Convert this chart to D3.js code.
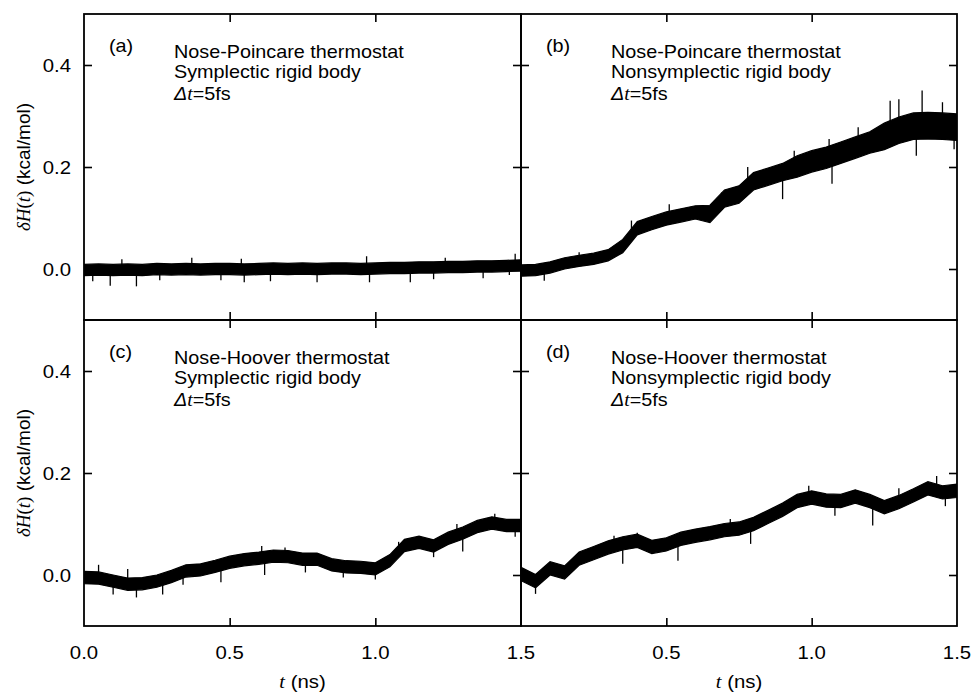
<!DOCTYPE html>
<html><head><meta charset="utf-8">
<script src="https://cdn.jsdelivr.net/npm/d3@7"></script>
<style>body{margin:0;background:#fff} svg{display:block}</style>
</head><body><svg id="c" width="974" height="694"></svg>
<script>
// ---------- data ----------
const times = [0,0.05,0.1,0.15,0.2,0.25,0.3,0.35,0.4,0.45,0.5,0.55,0.6,0.65,0.7,0.75,0.8,0.85,0.9,0.95,1.0,1.05,1.1,1.15,1.2,1.25,1.3,1.35,1.4,1.45,1.5];
const panelLetters = ["(a)","(b)","(c)","(d)"];
const thermostatNames = ["Nose-Poincare thermostat","Nose-Poincare thermostat","Nose-Hoover thermostat","Nose-Hoover thermostat"];
const bodyNames = ["Symplectic rigid body","Nonsymplectic rigid body","Symplectic rigid body","Nonsymplectic rigid body"];
const stepLabel = "=5fs";
const xTicks = [0,0.5,1.0,1.5];
const yTicks = [0,0.2,0.4];
const xDomain = [0,1.5];
const yDomain = [-0.1,0.5];

const centerA = [-0.002,-0.001,-0.002,-0.001,-0.002,0.000,-0.001,0.000,-0.001,0.000,0.000,-0.001,0.000,0.001,0.000,0.001,0.000,0.001,0.001,0.000,0.001,0.002,0.002,0.003,0.003,0.004,0.004,0.005,0.005,0.006,0.007];
const halfA   = [0.011,0.011,0.011,0.011,0.011,0.011,0.011,0.011,0.011,0.011,0.011,0.011,0.011,0.011,0.011,0.011,0.011,0.011,0.011,0.011,0.011,0.011,0.011,0.011,0.011,0.011,0.011,0.011,0.011,0.011,0.011];
const centerB = [-0.003,-0.002,0.003,0.011,0.016,0.020,0.027,0.045,0.080,0.090,0.099,0.105,0.111,0.108,0.138,0.146,0.172,0.181,0.190,0.201,0.211,0.218,0.228,0.238,0.248,0.260,0.272,0.280,0.281,0.280,0.278];
const halfB   = [0.011,0.011,0.011,0.011,0.011,0.011,0.011,0.013,0.013,0.013,0.013,0.013,0.013,0.017,0.017,0.017,0.017,0.017,0.017,0.021,0.021,0.021,0.021,0.021,0.021,0.026,0.026,0.026,0.026,0.026,0.026];
const centerC = [-0.005,-0.006,-0.012,-0.018,-0.017,-0.012,-0.003,0.008,0.010,0.017,0.025,0.030,0.033,0.037,0.036,0.031,0.031,0.020,0.016,0.015,0.012,0.028,0.058,0.064,0.057,0.072,0.082,0.095,0.102,0.097,0.097];
const halfC   = [0.012,0.012,0.012,0.012,0.012,0.012,0.012,0.012,0.012,0.012,0.012,0.012,0.012,0.012,0.012,0.012,0.012,0.012,0.012,0.012,0.012,0.012,0.012,0.012,0.012,0.012,0.012,0.012,0.012,0.012,0.012];
const centerD = [0.002,-0.012,0.013,0.005,0.032,0.043,0.054,0.062,0.067,0.055,0.060,0.071,0.077,0.082,0.088,0.091,0.100,0.114,0.128,0.145,0.152,0.146,0.145,0.154,0.145,0.133,0.143,0.156,0.170,0.162,0.165];
const halfD   = [0.013,0.013,0.013,0.013,0.013,0.013,0.013,0.013,0.013,0.013,0.013,0.013,0.013,0.013,0.013,0.013,0.013,0.013,0.013,0.013,0.013,0.013,0.013,0.013,0.013,0.013,0.013,0.013,0.013,0.013,0.013];

// spikes: [time, tip value]
const spikesA = [[0.03,-0.024],[0.09,-0.033],[0.13,0.019],[0.18,-0.034],[0.26,-0.022],[0.37,0.022],[0.47,-0.022],[0.54,0.020],[0.55,-0.026],[0.64,-0.024],[0.80,-0.026],[0.97,0.025],[0.98,-0.026],[1.12,-0.026],[1.20,-0.020],[1.24,0.022],[1.37,-0.018],[1.46,-0.012],[1.48,0.030]];
const spikesB = [[0.08,-0.023],[0.20,0.033],[0.38,0.095],[0.45,0.087],[0.51,0.127],[0.62,0.102],[0.69,0.150],[0.78,0.200],[0.90,0.137],[0.94,0.232],[1.06,0.255],[1.07,0.167],[1.16,0.278],[1.27,0.330],[1.30,0.333],[1.36,0.222],[1.38,0.350],[1.45,0.327],[1.49,0.235]];
const spikesC = [[0.05,0.020],[0.10,-0.038],[0.15,0.012],[0.18,-0.044],[0.27,-0.038],[0.34,-0.019],[0.47,-0.014],[0.61,0.057],[0.62,0.000],[0.69,0.054],[0.76,0.005],[0.89,-0.005],[1.00,-0.009],[1.08,0.065],[1.20,0.035],[1.28,0.100],[1.30,0.046],[1.41,0.120],[1.48,0.075]];
const spikesD = [[0.05,-0.037],[0.32,0.077],[0.35,0.022],[0.40,0.083],[0.54,0.028],[0.72,0.110],[0.79,0.061],[0.99,0.175],[1.08,0.116],[1.21,0.097],[1.30,0.170],[1.43,0.194],[1.46,0.135]];

const centers = [centerA, centerB, centerC, centerD];
const halves = [halfA, halfB, halfC, halfD];
const spikes = [spikesA, spikesB, spikesC, spikesD];

// ---------- layout ----------
const svg = d3.select("#c");
const SANS = "'Liberation Sans', Arial, Helvetica, sans-serif";
const SERIF = "'Liberation Serif', 'Times New Roman', serif";
const STRETCH = 1.1;
const colEdges = [84, 521, 957];
const rowEdges = [14, 320, 626];

const panels = [0,1,2,3].map(i => {
  const c = i % 2, r = Math.floor(i / 2);
  return {
    i,
    x: d3.scaleLinear().domain(xDomain).range([colEdges[c], colEdges[c+1]]),
    y: d3.scaleLinear().domain(yDomain).range([rowEdges[r+1], rowEdges[r]]),
    c, r
  };
});

const defs = svg.append("defs");
panels.forEach(p => {
  defs.append("clipPath").attr("id", "clip" + p.i)
    .append("rect")
    .attr("x", p.x.range()[0]).attr("y", p.y.range()[1])
    .attr("width", p.x.range()[1] - p.x.range()[0])
    .attr("height", p.y.range()[0] - p.y.range()[1]);
});

// data bands
panels.forEach(p => {
  const rows = times.map((t, k) => ({t, m: centers[p.i][k], h: halves[p.i][k]}));
  const area = d3.area()
    .x(d => p.x(d.t))
    .y0(d => p.y(d.m - d.h))
    .y1(d => p.y(d.m + d.h));
  const g = svg.append("g").attr("clip-path", "url(#clip" + p.i + ")");
  g.append("path")
    .attr("d", area(rows))
    .attr("fill", "#000")
    .attr("stroke", "#000")
    .attr("stroke-width", 1.2)
    .attr("stroke-linejoin", "miter");
  const centerAt = d3.scaleLinear().domain(times).range(centers[p.i]);
  g.selectAll("line.spike").data(spikes[p.i]).join("line")
    .attr("class", "spike")
    .attr("x1", d => p.x(d[0])).attr("x2", d => p.x(d[0]))
    .attr("y1", d => p.y(centerAt(d[0]))).attr("y2", d => p.y(d[1]))
    .attr("stroke", "#000").attr("stroke-width", 1.3);
});

// axes with inward ticks
const TICK = 8;
panels.forEach(p => {
  const g = svg.append("g");
  const [x0, x1] = p.x.range();
  const [yb, yt] = p.y.range();
  const ab = g.append("g").attr("transform", `translate(0,${yb})`)
    .call(d3.axisTop(p.x).tickValues([0.5, 1.0]).tickSize(TICK).tickFormat(""));
  const at = g.append("g").attr("transform", `translate(0,${yt})`)
    .call(d3.axisBottom(p.x).tickValues([0.5, 1.0]).tickSize(TICK).tickFormat(""));
  const al = g.append("g").attr("transform", `translate(${x0},0)`)
    .call(d3.axisRight(p.y).tickValues(yTicks).tickSize(TICK).tickFormat(""));
  const ar = g.append("g").attr("transform", `translate(${x1},0)`)
    .call(d3.axisLeft(p.y).tickValues(yTicks).tickSize(TICK).tickFormat(""));
  [ab, at, al, ar].forEach(a => {
    a.select(".domain").remove();
    a.selectAll("line").attr("stroke", "#000").attr("stroke-width", 1.6);
  });
  g.append("rect").attr("x", x0).attr("y", yt).attr("width", x1 - x0).attr("height", yb - yt)
    .attr("fill", "none").attr("stroke", "#000").attr("stroke-width", 1.8);
});

function stretchedText(x, y, anchor) {
  return svg.append("text")
    .attr("transform", `translate(${x},${y}) scale(${STRETCH},1)`)
    .attr("text-anchor", anchor || "start")
    .attr("font-family", SANS).attr("fill", "#000");
}

// y tick labels
[0, 1].forEach(r => {
  const p = panels[r * 2];
  yTicks.forEach(v => {
    stretchedText(p.x.range()[0] - 13, p.y(v) + 6.5, "end")
      .attr("font-size", 18.5).text(d3.format(".1f")(v));
  });
});
// x tick labels
[2, 3].forEach(i => {
  const p = panels[i];
  const vals = i === 2 ? xTicks : xTicks.slice(1);
  vals.forEach(v => {
    stretchedText(p.x(v), 659, "middle").attr("font-size", 18.5).text(d3.format(".1f")(v));
  });
  const t = stretchedText((p.x.range()[0] + p.x.range()[1]) / 2, 688, "middle").attr("font-size", 18.5);
  t.append("tspan").attr("font-family", SERIF).attr("font-style", "italic").text("t");
  t.append("tspan").text(" (ns)");
});

// y axis titles
[0, 1].forEach(r => {
  const p = panels[r * 2];
  const cy = (p.y.range()[0] + p.y.range()[1]) / 2;
  const t = svg.append("text")
    .attr("transform", `translate(30,${cy}) rotate(-90)`)
    .attr("text-anchor", "middle").attr("font-size", 19).attr("font-family", SANS).attr("fill", "#000");
  t.append("tspan").attr("font-family", SERIF).attr("font-style", "italic").text("\u03B4H");
  t.append("tspan").attr("font-family", SERIF).text("(");
  t.append("tspan").attr("font-family", SERIF).attr("font-style", "italic").text("t");
  t.append("tspan").attr("font-family", SERIF).text(")");
  t.append("tspan").text(" (kcal/mol)");
});

// annotations
panels.forEach(p => {
  const x0 = p.x.range()[0], yt = p.y.range()[1];
  stretchedText(x0 + 25, yt + 37.5).attr("font-size", 18).text(panelLetters[p.i]);
  stretchedText(x0 + 90, yt + 43.5).attr("font-size", 18).text(thermostatNames[p.i]);
  stretchedText(x0 + 90, yt + 64).attr("font-size", 18).text(bodyNames[p.i]);
  const d = stretchedText(x0 + 90, yt + 85.5).attr("font-size", 18);
  d.append("tspan").attr("font-style", "italic").text("\u0394");
  d.append("tspan").attr("font-family", SERIF).attr("font-style", "italic").text("t");
  d.append("tspan").text(stepLabel);
});
</script>
</body></html>
